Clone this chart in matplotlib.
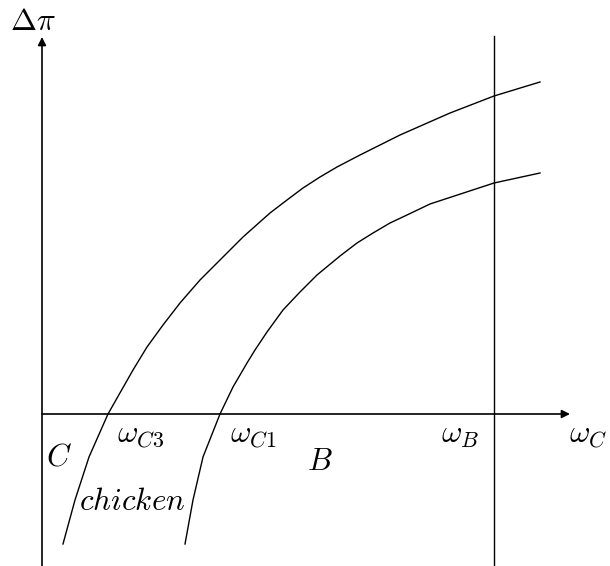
import matplotlib
matplotlib.use("Agg")
import matplotlib.pyplot as plt

plt.rcParams['mathtext.fontset'] = 'cm'
plt.rcParams['font.family'] = 'serif'
plt.rcParams['font.serif'] = ['DejaVu Serif']

# curves (origin at the axis crossing)
upper_x = [21, 33, 47, 66, 91, 105, 121, 138, 158, 185, 201, 228, 245, 261, 278, 295, 318, 358, 408, 452, 498]
upper_y = [-130, -86, -43, 0, 44, 67, 89, 111, 134, 161, 177, 201, 214, 226, 237, 247, 259, 279, 301, 318, 332]
lower_x = [143, 151, 161, 178, 191, 205, 213, 225, 241, 258, 275, 298, 315, 331, 348, 365, 388, 452, 498]
lower_y = [-130, -86, -43, 0, 27, 51, 64, 82, 104, 122, 139, 158, 171, 181, 191, 199, 210, 231, 241]

omega_B = 452
x_tip = 528
y_tip = 377

fig = plt.figure(figsize=(6.1, 5.66), dpi=100)
ax = fig.add_axes([0, 0, 1, 1])
ax.set_xlim(-42, 568)
ax.set_ylim(-152, 414)
ax.axis('off')

line_style = {'color': 'black', 'linewidth': 1.0}
axis_style = {'arrowstyle': '-|>', 'color': 'black', 'linewidth': 1.2, 'mutation_scale': 12,
              'shrinkA': 0, 'shrinkB': 0}

# axes
ax.annotate('', xy=(0, y_tip), xytext=(0, -152), arrowprops=axis_style)
ax.annotate('', xy=(x_tip, 0), xytext=(0, 0), arrowprops=axis_style)
ax.plot([omega_B, omega_B], [-152, 378], **line_style)

ax.plot(upper_x, upper_y, **line_style)
ax.plot(lower_x, lower_y, **line_style)

fs = 22.5
ax.text(-9, 393, r'$\Delta\pi$', fontsize=fs, ha='center', va='center')
ax.text(99, -20, r'$\omega_{C3}$', fontsize=fs, ha='center', va='center')
ax.text(211, -20, r'$\omega_{C1}$', fontsize=fs, ha='center', va='center')
ax.text(418, -20, r'$\omega_B$', fontsize=fs, ha='center', va='center')
ax.text(546, -20, r'$\omega_C$', fontsize=fs, ha='center', va='center')
ax.text(17, -43, r'$C$', fontsize=fs, ha='center', va='center')
ax.text(278, -47, r'$B$', fontsize=fs, ha='center', va='center')
ax.text(90, -87, r'$chicken$', fontsize=fs, ha='center', va='center')

fig.savefig('out.png', dpi=100)
